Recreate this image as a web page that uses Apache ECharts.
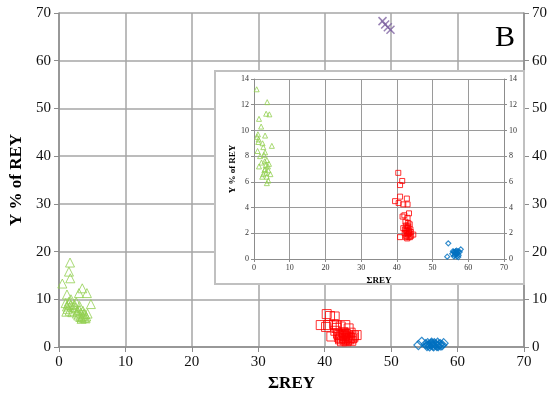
<!DOCTYPE html>
<html>
<head>
<meta charset="utf-8">
<script src="https://cdn.jsdelivr.net/npm/echarts@6/dist/echarts.min.js"></script>
<style>
	html, body { margin: 0; padding: 0; background: #fff; }
	#myChart { width: 557px; height: 398px; }
</style>
</head>
<body>
<div id="myChart"></div>
<script>
	// 主图数据 [ΣREY, Y % of REY]
	var mainGreen = [
		[1.66, 17.7], [1.5, 15.8], [1.7, 14.4], [0.5, 13.3], [3.5, 12.3], [4.2, 11.3],
		[3.0, 11.3], [1.2, 11.0], [1.8, 10.0], [4.8, 9.0], [1.0, 9.2], [1.2, 8.5],
		[1.3, 8.0], [1.5, 9.5], [1.6, 7.6], [1.8, 8.8], [2.0, 7.3], [2.3, 9.0],
		[2.5, 8.2], [2.7, 7.0], [2.9, 6.6], [3.0, 7.8], [3.2, 6.3], [3.3, 7.2],
		[3.5, 6.5], [3.6, 7.6], [3.8, 6.1], [3.9, 6.9], [4.1, 6.4], [4.3, 7.0],
		[3.1, 8.6], [2.6, 9.4], [1.1, 7.4], [3.4, 5.9], [2.8, 7.5], [3.7, 6.8],
		[3.4, 6.2], [4.0, 6.0], [2.2, 8.4], [1.4, 8.9]
	];
	var mainRed = [
		[40.3, 6.9], [41.5, 6.4], [40.8, 6.5], [39.4, 4.6], [40.5, 4.6], [41.8, 4.6],
		[43.1, 4.6], [43.6, 3.9], [41.0, 2.2], [44.8, 2.5], [41.6, 3.4], [42.0, 2.8],
		[42.3, 1.6], [42.5, 2.4], [42.8, 3.1], [42.9, 1.9], [43.2, 2.7], [43.4, 1.5],
		[43.6, 2.2], [43.9, 3.0], [44.1, 1.8], [44.4, 2.4], [42.6, 1.2], [43.3, 1.2],
		[44.0, 1.3], [42.2, 2.0], [43.0, 2.3], [41.8, 4.0], [40.2, 4.2], [42.7, 2.6],
		[43.1, 1.7], [43.5, 2.5], [43.8, 1.9], [42.4, 1.8], [43.0, 1.4], [43.7, 1.6],
		[42.9, 2.9], [44.3, 2.0], [42.1, 2.5], [43.3, 2.0], [41.4, 4.8], [42.4, 4.3]
	];
	var mainBlue = [
		[54.1, 0.4], [54.6, 1.1], [55.2, 0.6], [55.6, 0.4], [56.0, 0.7], [56.3, 0.3],
		[56.6, 0.6], [56.9, 0.2], [57.2, 0.5], [57.5, 0.3], [57.9, 0.8], [56.5, 0.8],
		[55.8, 0.1], [57.0, 0.9], [55.4, 0.2], [55.9, 0.5], [56.2, 0.6], [56.4, 0.1],
		[56.8, 0.4], [57.1, 0.2], [57.4, 0.6], [57.7, 0.4], [56.1, 0.9], [55.5, 0.8]
	];
	var mainPurple = [[48.7, 68.3], [49.1, 67.6], [49.5, 67.0], [49.9, 66.5]];

	// 插图数据
	var insetGreen = [
		[0.75, 13.2], [3.7, 12.2], [3.4, 11.3], [4.3, 11.25], [1.4, 10.9], [2.0, 10.3],
		[5.0, 8.8], [0.9, 9.5], [3.1, 9.6], [1.2, 9.1], [2.6, 8.7], [1.0, 8.4],
		[3.1, 8.3], [1.7, 8.0], [3.6, 7.7], [1.4, 7.2], [3.1, 7.0], [4.0, 6.9],
		[2.6, 6.6], [3.6, 6.4], [4.0, 6.1], [3.6, 5.9], [4.6, 6.6], [2.1, 7.5],
		[1.3, 9.3], [2.4, 9.0], [3.3, 7.3], [3.9, 7.2], [2.9, 6.9], [1.1, 9.7],
		[2.8, 8.1], [3.4, 6.7], [4.2, 7.4], [3.0, 7.6], [2.3, 6.4]
	];
	var insetRed = [
		[40.4, 6.7], [41.5, 6.07], [40.9, 5.75], [39.5, 4.5], [40.9, 4.85], [40.5, 4.35],
		[42.8, 4.7], [41.8, 4.25], [43.0, 4.25], [42.1, 3.4], [43.4, 3.55], [43.0, 3.2],
		[40.9, 1.7], [44.6, 1.9], [41.8, 2.4], [42.2, 2.0], [42.5, 2.6], [42.7, 1.8],
		[43.0, 2.2], [43.2, 2.5], [43.3, 1.7], [43.5, 2.0], [43.8, 2.3], [44.0, 1.8],
		[42.4, 2.9], [43.6, 2.7], [42.9, 1.6], [41.6, 3.3], [42.6, 2.2], [42.9, 2.4],
		[43.1, 1.9], [43.4, 2.2], [42.8, 2.0], [43.2, 2.8], [43.7, 1.7], [42.5, 1.7],
		[43.0, 2.6], [43.9, 2.1], [42.3, 2.3], [43.3, 2.0]
	];
	var insetBlue = [
		[54.4, 1.22], [54.1, 0.18], [57.9, 0.75], [55.5, 0.4], [55.9, 0.55], [56.2, 0.3],
		[56.5, 0.5], [56.8, 0.2], [57.0, 0.45], [57.3, 0.3], [57.6, 0.55], [56.0, 0.2],
		[56.7, 0.65], [56.3, 0.45], [56.6, 0.35], [56.9, 0.5], [57.2, 0.15], [56.4, 0.6],
		[55.7, 0.6], [57.1, 0.6]
	];

	var serif = '"Liberation Serif", "DejaVu Serif", serif';
	var xPath = 'path://M0,0L10,10M10,0L0,10';

	function hollow(color, w) {
		return { color: 'rgba(255,255,255,0)', borderColor: color, borderWidth: w };
	}

	var myChart = echarts.init(document.getElementById('myChart'));
	myChart.setOption({
		animation: false,
		backgroundColor: '#fff',
		title: {
			text: 'B',
			left: 490,
			top: 18,
			textStyle: { fontFamily: serif, fontSize: 30, fontWeight: 'normal', color: '#000' }
		},
		grid: [
			{ left: 59, right: 33, top: 13, bottom: 51 },
			{ left: 254, right: 53, top: 79, bottom: 139 }
		],
		graphic: [{
			type: 'rect',
			shape: { x: 215, y: 71, width: 309, height: 213 },
			style: { fill: '#fff', stroke: '#c0c0c0', lineWidth: 2 },
			z: 1
		}],
		xAxis: [{
			gridIndex: 0, type: 'value', min: 0, max: 70, interval: 10,
			name: 'ΣREY', nameLocation: 'middle', nameGap: 28,
			nameTextStyle: { fontFamily: serif, fontSize: 17, fontWeight: 'bold', color: '#000' },
			axisLine: { lineStyle: { color: '#8c8c8c', width: 1.5 } },
			axisTick: { show: true, length: 5, lineStyle: { color: '#8c8c8c' } },
			axisLabel: { fontFamily: serif, fontSize: 15, color: '#111', margin: 8 },
			splitLine: { lineStyle: { color: '#a6a6a6', width: 1.5 } }
		}, {
			gridIndex: 1, type: 'value', min: 0, max: 70, interval: 10, z: 3,
			name: 'ΣREY', nameLocation: 'middle', nameGap: 17,
			nameTextStyle: { fontFamily: serif, fontSize: 9, fontWeight: 'bold', color: '#000' },
			axisLine: { lineStyle: { color: '#8c8c8c' } },
			axisTick: { show: true, length: 3, lineStyle: { color: '#8c8c8c' } },
			axisLabel: { fontFamily: serif, fontSize: 8, color: '#333', margin: 5 },
			splitLine: { lineStyle: { color: '#9a9a9a' } }
		}],
		yAxis: [{
			gridIndex: 0, type: 'value', min: 0, max: 70, interval: 10, position: 'left',
			name: 'Y % of REY', nameLocation: 'middle', nameGap: 29,
			nameTextStyle: { fontFamily: serif, fontSize: 17, fontWeight: 'bold', color: '#000' },
			axisLine: { show: true, lineStyle: { color: '#8c8c8c', width: 1.5 } },
			axisTick: { show: true, length: 5, lineStyle: { color: '#8c8c8c' } },
			axisLabel: { fontFamily: serif, fontSize: 15, color: '#111', margin: 8 },
			splitLine: { lineStyle: { color: '#a6a6a6', width: 1.5 } }
		}, {
			gridIndex: 0, type: 'value', min: 0, max: 70, interval: 10, position: 'right',
			axisLine: { show: true, lineStyle: { color: '#8c8c8c', width: 1.5 } },
			axisTick: { show: true, length: 5, lineStyle: { color: '#8c8c8c' } },
			axisLabel: { fontFamily: serif, fontSize: 15, color: '#111', margin: 8 },
			splitLine: { show: false }
		}, {
			gridIndex: 1, type: 'value', min: 0, max: 14, interval: 2, position: 'left', z: 3,
			name: 'Y % of REY', nameLocation: 'middle', nameGap: 17,
			nameTextStyle: { fontFamily: serif, fontSize: 9, fontWeight: 'bold', color: '#000' },
			axisLine: { show: true, lineStyle: { color: '#8c8c8c' } },
			axisTick: { show: true, length: 3, lineStyle: { color: '#8c8c8c' } },
			axisLabel: { fontFamily: serif, fontSize: 8, color: '#333', margin: 5 },
			splitLine: { lineStyle: { color: '#9a9a9a' } }
		}, {
			gridIndex: 1, type: 'value', min: 0, max: 14, interval: 2, position: 'right', z: 3,
			axisLine: { show: true, lineStyle: { color: '#8c8c8c' } },
			axisTick: { show: true, length: 3, lineStyle: { color: '#8c8c8c' } },
			axisLabel: { fontFamily: serif, fontSize: 8, color: '#333', margin: 5 },
			splitLine: { show: false }
		}],
		series: [
			{ type: 'scatter', xAxisIndex: 0, yAxisIndex: 0, symbol: 'triangle', symbolSize: 9,
				itemStyle: hollow('#92d050', 1), data: mainGreen },
			{ type: 'scatter', xAxisIndex: 0, yAxisIndex: 0, symbol: 'rect', symbolSize: 9,
				itemStyle: hollow('#ff0000', 1), data: mainRed },
			{ type: 'scatter', xAxisIndex: 0, yAxisIndex: 0, symbol: 'diamond', symbolSize: 9,
				itemStyle: hollow('#0070c0', 1.2), data: mainBlue },
			{ type: 'scatter', xAxisIndex: 0, yAxisIndex: 0, symbol: xPath, symbolSize: 8,
				itemStyle: hollow('#8064a2', 1.5), data: mainPurple },
			{ type: 'scatter', xAxisIndex: 1, yAxisIndex: 2, symbol: 'triangle', symbolSize: 5, z: 5,
				itemStyle: hollow('#92d050', 1), data: insetGreen },
			{ type: 'scatter', xAxisIndex: 1, yAxisIndex: 2, symbol: 'rect', symbolSize: 5, z: 5,
				itemStyle: hollow('#ff0000', 1), data: insetRed },
			{ type: 'scatter', xAxisIndex: 1, yAxisIndex: 2, symbol: 'diamond', symbolSize: 5, z: 5,
				itemStyle: hollow('#0070c0', 1.2), data: insetBlue }
		]
	});
</script>
</body>
</html>
